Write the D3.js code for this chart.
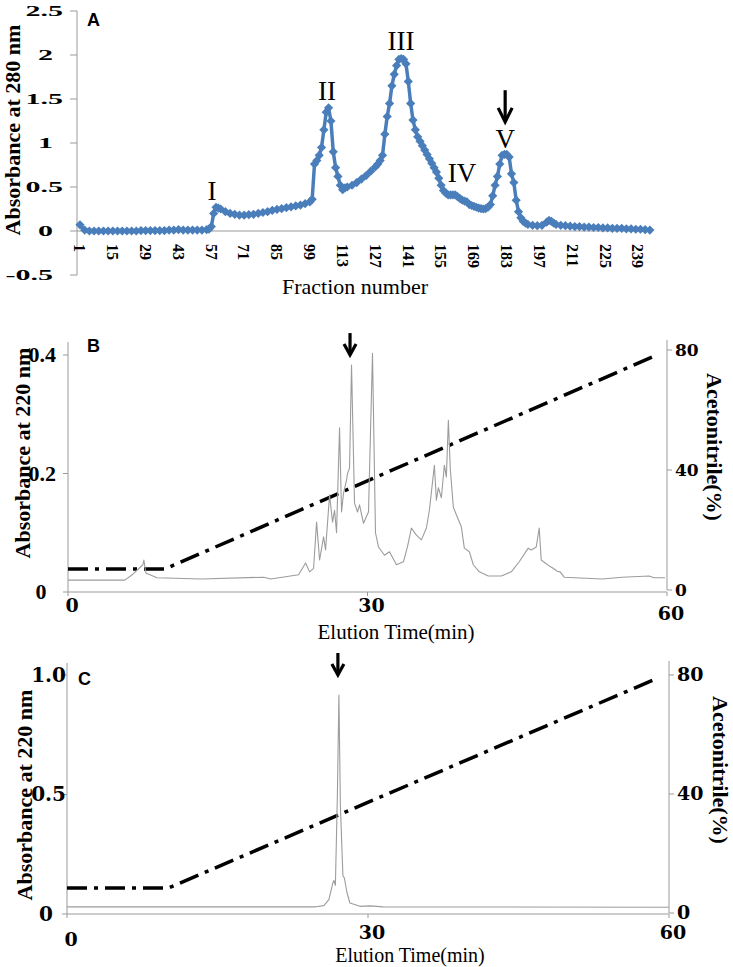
<!DOCTYPE html>
<html><head><meta charset="utf-8">
<script src="https://cdn.jsdelivr.net/npm/d3@7/dist/d3.min.js"></script>
<style>body{margin:0;background:#fff}svg{display:block}</style>
</head><body>
<svg id="chart" width="733" height="967"></svg>
<script>
// ---------- Panel A: gel filtration (fraction vs A280) ----------
const fractionA = [1,3,5,7,9,11,13,15,17,19,
 21,23,25,27,29,31,33,35,37,39,
 41,43,45,47,49,51,53,55,56,57,
 58,59,60,61,63,65,67,69,71,73,
 75,77,79,81,83,85,87,89,91,93,
 95,97,99,100,101,102,103,104,105,106,
 107,108,109,110,111,112,113,114,115,117,
 119,121,123,125,127,128,129,130,131,132,
 133,134,135,136,137,138,139,140,141,142,
 143,144,145,146,147,148,149,150,151,152,
 153,154,155,156,157,158,159,160,161,162,
 163,164,165,166,167,168,169,170,171,172,
 173,174,175,176,177,178,179,180,181,182,
 183,184,185,186,187,188,189,190,191,192,
 194,196,198,200,201,202,203,204,206,208,
 210,212,214,216,218,220,222,224,226,228,
 230,232,234,236,238,240,242,244];
const absA = [0.07,0.01,0,0,0,0,0,0,0,0,
 0,0,0,0.005,0.005,0.005,0.005,0.005,0.005,0.01,
 0.01,0.015,0.01,0.01,0.01,0.01,0.01,0.015,0.02,0.05,
 0.2,0.27,0.26,0.25,0.22,0.2,0.19,0.18,0.18,0.185,
 0.19,0.2,0.21,0.22,0.235,0.245,0.255,0.265,0.275,0.285,
 0.295,0.31,0.33,0.36,0.76,0.8,0.86,0.95,1.15,1.35,
 1.4,1.25,0.9,0.72,0.62,0.52,0.47,0.49,0.5,0.52,
 0.55,0.59,0.63,0.68,0.73,0.76,0.8,0.86,1.1,1.3,
 1.45,1.65,1.78,1.88,1.95,1.96,1.95,1.9,1.7,1.45,
 1.26,1.15,1.07,1.02,0.97,0.92,0.87,0.82,0.77,0.72,
 0.67,0.6,0.52,0.46,0.43,0.41,0.41,0.41,0.41,0.39,
 0.37,0.35,0.34,0.33,0.3,0.29,0.28,0.27,0.26,0.255,
 0.25,0.255,0.27,0.3,0.4,0.52,0.62,0.76,0.86,0.87,
 0.87,0.84,0.65,0.55,0.35,0.22,0.15,0.11,0.09,0.075,
 0.065,0.06,0.065,0.1,0.12,0.11,0.09,0.075,0.065,0.06,
 0.055,0.05,0.05,0.045,0.045,0.04,0.04,0.035,0.035,0.03,
 0.03,0.03,0.025,0.025,0.02,0.02,0.015,0.01];
const fractionTicksA = [1,15,29,43,57,71,85,99,113,127,141,155,169,183,197,211,225,239];
const yTicksA = [-0.5,0,0.5,1,1.5,2,2.5];
const peakNamesA = ["I","II","III","IV","V"];
const peakFractionA = [57.3,106.3,137.9,163.9,182.3];
const peakLabelLevelA = [0.35,1.49,2.06,0.56,0.94];
const arrowA = {fraction:182.3, from:1.6, to:1.24};

// ---------- Panel B: RP-HPLC of fraction V ----------
const timeB = [0,5.7,6.5,7.5,7.6,7.8,8.9,13.3,19.6,20.3,
 23.1,23.8,24.2,24.6,24.9,25.2,25.6,25.8,26.2,26.5,
 26.7,26.9,27.2,27.4,27.6,27.9,28.0,28.2,28.4,28.7,
 29.0,29.2,29.6,30.1,30.5,30.8,31.1,31.7,32.2,32.9,
 33.6,34.0,34.4,34.9,35.4,35.9,36.2,36.7,36.9,37.1,
 37.4,37.7,37.9,38.1,38.3,38.6,39.1,39.4,39.7,40.2,
 40.6,41.2,42.1,43.4,44.4,45.2,46.1,46.4,46.9,47.2,
 47.4,47.8,48.2,48.6,49.0,49.3,49.7,53.5,55.5,58.2,
 58.7,59.8];
const absB = [0.020,0.020,0.030,0.046,0.054,0.032,0.024,0.022,0.025,0.022,
 0.029,0.049,0.034,0.040,0.118,0.054,0.093,0.071,0.164,0.118,
 0.138,0.100,0.277,0.135,0.167,0.189,0.200,0.209,0.383,0.150,
 0.135,0.147,0.116,0.135,0.403,0.100,0.076,0.062,0.068,0.046,
 0.051,0.076,0.108,0.096,0.088,0.108,0.138,0.214,0.155,0.176,
 0.159,0.214,0.194,0.290,0.206,0.143,0.122,0.110,0.074,0.068,
 0.046,0.034,0.027,0.027,0.034,0.051,0.074,0.071,0.076,0.108,
 0.054,0.049,0.044,0.040,0.035,0.034,0.025,0.022,0.025,0.027,
 0.024,0.024];
const gradTimeB = [0,9.7,59.1];
const gradPctB = [7,7,78.5];
const absTicksB = [0,0.2,0.4];
const arrowB = {time:28.25, from:0.437, to:0.4};

// ---------- Panel C: re-chromatography ----------
const timeC = [0,24.8,25.6,26.1,26.5,26.6,26.75,26.95,27.1,27.25,27.5,27.65,27.9,28.2,29.2,30.2,31.5,60];
const absC = [0.03,0.03,0.035,0.06,0.13,0.14,0.12,0.5,0.916,0.45,0.16,0.15,0.09,0.046,0.032,0.034,0.03,0.028];
const gradTimeC = [0,10.1,58.9];
const gradPctC = [8.4,8.4,79];
const absTicksC = [0,0.5,1.0];
const arrowC = {time:27.0, from:1.092, to:1.0};

const timeTicks = [0,30,60];
const pctTicks = [0,40,80];

// ======================================================
const svg = d3.select("#chart");
const AX = "#9a9a9a";
const SERIF = "'Liberation Serif','Times New Roman',serif";
const WIDE = "'DejaVu Serif',serif";

function arrow(x, y1, y2, hw, hh){
  const g = svg.append("g").attr("fill","none").attr("stroke","#000").attr("stroke-width",3.2);
  g.append("line").attr("x1",x).attr("x2",x).attr("y1",y1).attr("y2",y2-1);
  g.append("path").attr("d",`M${x-hw},${y2-hh}L${x},${y2}L${x+hw},${y2-hh}`).attr("stroke-linejoin","miter");
}

// ---------------- Panel A ----------------
{
  const x = d3.scaleLinear().domain([0,245]).range([77.65,652.2]);
  const y = d3.scaleLinear().domain([-0.5,2.5]).range([275,11]);
  const g = svg.append("g");
  g.append("line").attr("x1",77).attr("x2",77).attr("y1",y(2.5)).attr("y2",y(-0.5)).attr("stroke",AX);
  g.append("line").attr("x1",77).attr("x2",652).attr("y1",y(0)).attr("y2",y(0)).attr("stroke",AX);
  yTicksA.forEach(v=>{
    g.append("line").attr("x1",70).attr("x2",77).attr("y1",y(v)).attr("y2",y(v)).attr("stroke",AX);
    const right = (Number.isInteger(v) || v<0) ? 53 : 63;
    g.append("text").attr("transform",`translate(${right},${y(v)}) scale(2,1)`)
      .attr("text-anchor","end").attr("dy","0.34em")
      .attr("font-family",SERIF).attr("font-weight","bold").attr("font-size",15)
      .text(String(v));
  });
  fractionTicksA.forEach(f=>{
    g.append("text").attr("transform",`translate(${x(f)},244) rotate(90)`)
      .attr("text-anchor","start").attr("dy","0.36em")
      .attr("font-family",SERIF).attr("font-weight","bold").attr("font-size",16)
      .text(f);
  });
  g.append("text").attr("x",355).attr("y",294).attr("text-anchor","middle")
    .attr("font-family",SERIF).attr("font-size",22).text("Fraction number");
  g.append("text").attr("transform","translate(20,130) rotate(-90)").attr("text-anchor","middle")
    .attr("font-family",SERIF).attr("font-weight","bold").attr("font-size",22).text("Absorbance at 280 nm");
  g.append("text").attr("x",87).attr("y",26).attr("font-family","'Liberation Sans',Arial,sans-serif")
    .attr("font-weight","bold").attr("font-size",18).text("A");

  const pts = fractionA.map((f,i)=>[f,absA[i]]);
  g.append("path").datum(pts).attr("fill","none").attr("stroke","#4a7ebb").attr("stroke-width",3.5)
    .attr("stroke-linejoin","round")
    .attr("d", d3.line().x(d=>x(d[0])).y(d=>y(d[1])));
  const r = 4.6;
  g.append("g").attr("fill","#4a7ebb").selectAll("path").data(pts).join("path")
    .attr("d", d=>`M${x(d[0])},${y(d[1])-r}L${x(d[0])+r},${y(d[1])}L${x(d[0])},${y(d[1])+r}L${x(d[0])-r},${y(d[1])}Z`);

  peakNamesA.forEach((n,i)=>{
    g.append("text").attr("x",x(peakFractionA[i])).attr("y",y(peakLabelLevelA[i]))
      .attr("text-anchor","middle").attr("font-family",SERIF).attr("font-size",27).text(n);
  });
  arrow(x(arrowA.fraction), y(arrowA.from), y(arrowA.to), 7, 14);
}

// ---------------- Panels B & C ----------------
function hplc(cfg){
  const x = d3.scaleLinear().domain([0,60]).range(cfg.xr);
  const y = d3.scaleLinear().domain(cfg.yd).range(cfg.yr);
  const y2 = d3.scaleLinear().domain([0,80]).range(cfg.y2r);
  const g = svg.append("g");
  const x0 = cfg.xr[0], x1 = cfg.xr[1];
  g.append("line").attr("x1",x0).attr("x2",x0).attr("y1",cfg.top).attr("y2",y(0)).attr("stroke",AX);
  g.append("line").attr("x1",x1).attr("x2",x1).attr("y1",cfg.top-2).attr("y2",y2(0)).attr("stroke",AX);
  g.append("line").attr("x1",x0).attr("x2",x1).attr("y1",y(0)).attr("y2",y(0)).attr("stroke",AX);
  cfg.yTicks.forEach(v=>{
    g.append("line").attr("x1",x0-5).attr("x2",x0).attr("y1",y(v)).attr("y2",y(v)).attr("stroke",AX);
    const t = g.append("text").attr("y",y(v)).attr("dy","0.34em")
      .attr("font-family",cfg.lf).attr("font-weight","bold").attr("font-size",cfg.ls);
    if(v===0) t.attr("x",cfg.zeroX).attr("text-anchor","middle").text("0");
    else t.attr("x",cfg.labR).attr("text-anchor","end").text(d3.format(".1f")(v));
  });
  pctTicks.forEach(v=>{
    g.append("line").attr("x1",x1).attr("x2",x1+5).attr("y1",y2(v)).attr("y2",y2(v)).attr("stroke",AX);
    g.append("text").attr("x",x1+8).attr("y",y2(v)).attr("dy","0.34em")
      .attr("font-family",WIDE).attr("font-weight","bold").attr("font-size",cfg.rs).text(v);
  });
  timeTicks.forEach((v,i)=>{
    g.append("line").attr("x1",x(v)).attr("x2",x(v)).attr("y1",y(0)).attr("y2",y(0)+4).attr("stroke",AX);
    g.append("text").attr("x",x(v)+4).attr("y",cfg.xlabY[i]).attr("text-anchor","middle")
      .attr("font-family",WIDE).attr("font-weight","bold").attr("font-size",cfg.bs).text(v);
  });
  g.append("text").attr("x",cfg.titleX).attr("y",cfg.titleY).attr("text-anchor","middle")
    .attr("font-family",SERIF).attr("font-size",cfg.ts).text("Elution Time(min)");
  g.append("text").attr("transform",`translate(${cfg.ylabX},${cfg.ylabY}) rotate(-90)`).attr("text-anchor","middle")
    .attr("font-family",SERIF).attr("font-weight","bold").attr("font-size",22).text("Absorbance at 220 nm");
  g.append("text").attr("transform",`translate(${cfg.y2labX},${cfg.y2labY}) rotate(90)`).attr("text-anchor","middle")
    .attr("font-family",SERIF).attr("font-weight","bold").attr("font-size",22).text("Acetonitrile(%)");
  g.append("text").attr("x",cfg.letterX).attr("y",cfg.letterY).attr("font-family","'Liberation Sans',Arial,sans-serif")
    .attr("font-weight","bold").attr("font-size",18).text(cfg.letter);

  g.append("path").datum(cfg.gt.map((t,i)=>[t,cfg.gp[i]])).attr("fill","none")
    .attr("stroke","#000").attr("stroke-width",3.5).attr("stroke-dasharray","20,7,4,7")
    .attr("d", d3.line().x(d=>x(d[0])).y(d=>y2(d[1])));
  g.append("path").datum(cfg.t.map((t,i)=>[t,cfg.a[i]])).attr("fill","none")
    .attr("stroke","#9c9c9c").attr("stroke-width",1.1).attr("stroke-linejoin","round")
    .attr("d", d3.line().x(d=>x(d[0])).y(d=>y(d[1])));
  arrow(x(cfg.arrow.time), y(cfg.arrow.from), y(cfg.arrow.to), 6, 11);
}

hplc({letter:"B", letterX:87, letterY:352, xr:[68,667], yd:[0,0.4], yr:[592,355], y2r:[590,350],
  top:342, yTicks:absTicksB, lf:SERIF, ls:22, labR:56, zeroX:41, rs:17, bs:19,
  xlabY:[612,612,620], titleX:396, titleY:639, ts:21,
  ylabX:30, ylabY:453, y2labX:707, y2labY:447,
  t:timeB, a:absB, gt:gradTimeB, gp:gradPctB, arrow:arrowB});

hplc({letter:"C", letterX:78, letterY:685, xr:[67,669], yd:[0,1.0], yr:[914,675], y2r:[913,675],
  top:663, yTicks:absTicksC, lf:WIDE, ls:20, labR:66, zeroX:46, rs:19, bs:19,
  xlabY:[946,939,939], titleX:410, titleY:962, ts:20,
  ylabX:32, ylabY:795, y2labX:713, y2labY:770,
  t:timeC, a:absC, gt:gradTimeC, gp:gradPctC, arrow:arrowC});
</script>
</body></html>
